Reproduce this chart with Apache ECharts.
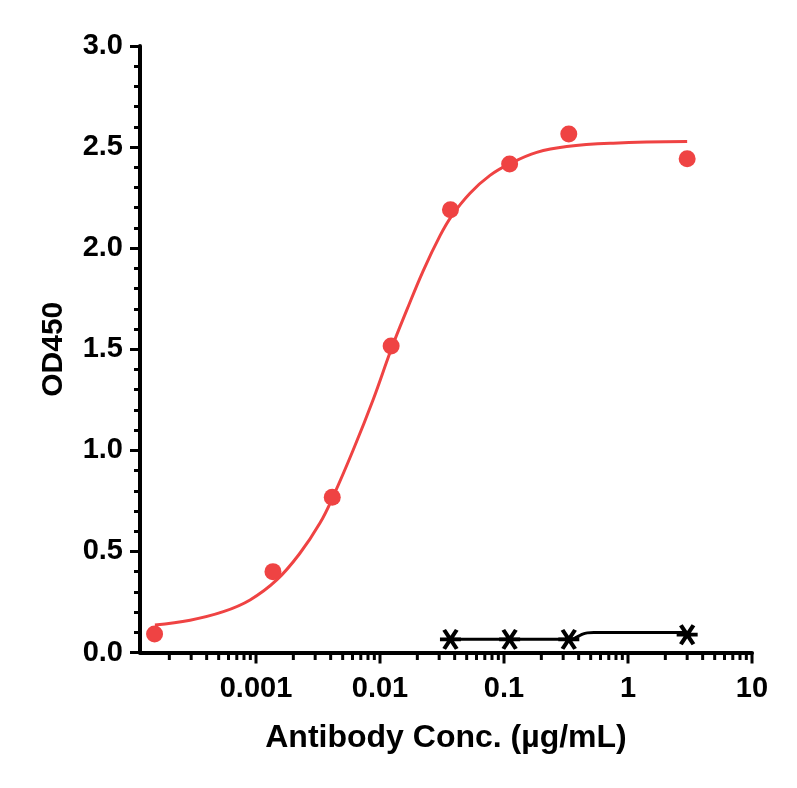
<!DOCTYPE html>
<html>
<head>
<meta charset="utf-8">
<script src="https://cdn.jsdelivr.net/npm/echarts@6/dist/echarts.min.js"></script>
<style>
html,body{margin:0;padding:0;background:#fff;}
#chart{width:797px;height:788px;}
</style>
</head>
<body>
<div id="chart"></div>
<script>
// ---- data ----
const redPointX = [0.000152, 0.00137, 0.00412, 0.0123, 0.037, 0.111, 0.333, 3];
const redPointY = [0.091, 0.400, 0.768, 1.516, 2.190, 2.416, 2.565, 2.442];

const redCurveX = [0.000153, 0.000294, 0.000545, 0.000895, 0.00147, 0.00226, 0.00328, 0.0042, 0.0061, 0.00883, 0.0124, 0.0164, 0.0223, 0.0305, 0.0379, 0.0532, 0.0771, 0.1117, 0.1836, 0.3206, 0.760, 3.0];
const redCurveY = [0.136, 0.160, 0.202, 0.260, 0.359, 0.491, 0.640, 0.773, 1.004, 1.253, 1.505, 1.692, 1.888, 2.062, 2.160, 2.272, 2.360, 2.418, 2.474, 2.503, 2.519, 2.527];

const blackPointX = [0.037, 0.111, 0.333, 3];
const blackPointY = [0.065, 0.065, 0.065, 0.088];

const blackCurveX = [0.037, 0.111, 0.333, 0.37, 0.40, 0.43, 0.47, 0.53, 1.0, 3.0];
const blackCurveY = [0.065, 0.065, 0.065, 0.070, 0.081, 0.091, 0.097, 0.099, 0.099, 0.099];

const xMajorTicks = [0.001, 0.01, 0.1, 1, 10];
const xTickLabels = ['0.001', '0.01', '0.1', '1', '10'];
const xMinorTicks = [0.0002,0.0003,0.0004,0.0005,0.0006,0.0007,0.0008,0.0009,
  0.002,0.003,0.004,0.005,0.006,0.007,0.008,0.009,
  0.02,0.03,0.04,0.05,0.06,0.07,0.08,0.09,
  0.2,0.3,0.4,0.5,0.6,0.7,0.8,0.9,
  2,3,4,5,6,7,8,9];

const xTitle = 'Antibody Conc. (µg/mL)';
const yTitle = 'OD450';

// ---- chart ----
const RED = '#EF4343';
const FONT = "'Liberation Sans', Arial, sans-serif";
const pairs = (xs, ys) => xs.map((x, i) => [x, ys[i]]);

const tickData = xMajorTicks.map(v => [v, 1]).concat(xMinorTicks.map(v => [v, 0]));

const chart = echarts.init(document.getElementById('chart'), null, {renderer: 'canvas'});
chart.setOption({
  backgroundColor: '#fff',
  animation: false,
  grid: {left: 140, right: 45, top: 46, bottom: 135.5, containLabel: false},
  xAxis: {
    type: 'log',
    logBase: 10,
    min: 0.000116,
    max: 10,
    splitNumber: 5,
    name: xTitle,
    nameLocation: 'middle',
    nameGap: 70,
    nameTextStyle: {fontFamily: FONT, fontWeight: 'bold', fontSize: 32, color: '#000'},
    axisLine: {show: true, onZero: false, lineStyle: {color: '#000', width: 4}},
    axisTick: {show: false},
    minorTick: {show: false},
    splitLine: {show: false},
    axisLabel: {
      margin: 22,
      fontFamily: FONT, fontWeight: 'bold', fontSize: 29, color: '#000',
      formatter: function (v) {
        for (let i = 0; i < xMajorTicks.length; i++) {
          if (Math.abs(v - xMajorTicks[i]) / xMajorTicks[i] < 1e-6) return xTickLabels[i];
        }
        return '';
      }
    }
  },
  yAxis: {
    type: 'value',
    min: 0,
    max: 3,
    interval: 0.5,
    name: yTitle,
    nameLocation: 'middle',
    nameGap: 71,
    nameTextStyle: {fontFamily: FONT, fontWeight: 'bold', fontSize: 30, color: '#000'},
    axisLine: {show: true, lineStyle: {color: '#000', width: 4}},
    axisTick: {show: true, length: 10, lineStyle: {color: '#000', width: 3}},
    minorTick: {show: true, splitNumber: 5, length: 6, lineStyle: {color: '#000', width: 3}},
    splitLine: {show: false},
    axisLabel: {
      margin: 17,
      fontFamily: FONT, fontWeight: 'bold', fontSize: 29, color: '#000',
      formatter: v => v.toFixed(1)
    }
  },
  series: [
    {
      type: 'line',
      data: pairs(redCurveX, redCurveY),
      showSymbol: false,
      smooth: 0.4,
      lineStyle: {color: RED, width: 3},
      z: 2,
      silent: true
    },
    {
      type: 'scatter',
      data: pairs(redPointX, redPointY),
      symbol: 'circle',
      symbolSize: 17,
      itemStyle: {color: RED, opacity: 1},
      z: 3,
      silent: true
    },
    {
      type: 'line',
      data: pairs(blackCurveX, blackCurveY),
      showSymbol: false,
      smooth: 0.3,
      lineStyle: {color: '#000', width: 3},
      z: 2,
      silent: true
    },
    {
      type: 'scatter',
      data: pairs(blackPointX, blackPointY),
      symbol: 'path://M-10,0L10,0M-6,-9L6,9M6,-9L-6,9',
      symbolSize: [21, 19],
      itemStyle: {color: 'none', borderColor: '#000', borderWidth: 4, opacity: 1},
      z: 4,
      silent: true
    },
    {
      type: 'custom',
      data: tickData,
      clip: false,
      silent: true,
      z: 5,
      renderItem: function (params, api) {
        const p = api.coord([api.value(0), 0]);
        const len = api.value(1) ? 11 : 7.5;
        return {
          type: 'line',
          shape: {x1: p[0], y1: p[1], x2: p[0], y2: p[1] + len},
          style: {stroke: '#000', lineWidth: 3}
        };
      }
    }
  ]
});
</script>
</body>
</html>
